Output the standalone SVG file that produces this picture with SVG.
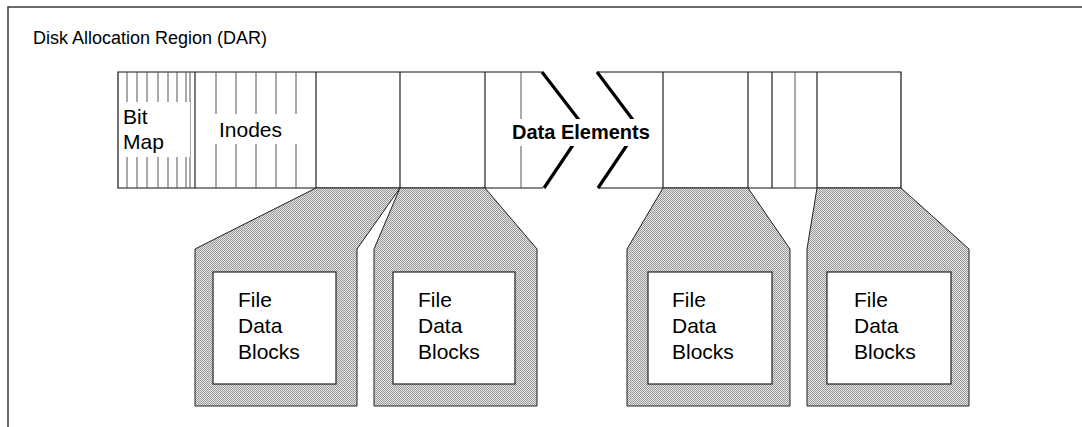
<svg xmlns="http://www.w3.org/2000/svg" width="1082" height="427" viewBox="0 0 1082 427">
  <defs>
    <!-- fine halftone screen used for the shaded funnels -->
    <pattern id="halftone" width="2" height="2" patternUnits="userSpaceOnUse">
      <rect width="2" height="2" fill="#e4e4e4"/>
      <rect width="1" height="1" fill="#9a9a9a"/>
      <rect x="1" y="1" width="1" height="1" fill="#9a9a9a"/>
    </pattern>
    <style>
      .frame { fill: none; stroke: #3a3a3a; stroke-width: 1.5; }
      .edge { fill: none; stroke: #111; stroke-width: 1.2; }
      .tick { fill: none; stroke: #555; stroke-width: 1; }
      .div { fill: none; stroke: #222; stroke-width: 1.2; }
      .brk { fill: none; stroke: #000; stroke-width: 3.2; }
      .funnel { fill: url(#halftone); stroke: #222; stroke-width: 1; }
      .inner { fill: #fff; stroke: #222; stroke-width: 1.2; }
      .knock { fill: #fff; stroke: none; }
      text { font-family: "Liberation Sans", Arial, sans-serif; fill: #000; }
      .lbl { font-size: 21px; }
      .title { font-size: 18px; }
      .bold { font-size: 20px; font-weight: bold; }
    </style>
  </defs>

  <rect width="1082" height="427" fill="#fff"/>

  <!-- outer frame (only top and left edges fall inside the sheet) -->
  <path class="frame" d="M8,427 V7 H1082"/>

  <g id="title">
    <text class="title" x="33" y="44">Disk Allocation Region (DAR)</text>
  </g>

  <!-- the allocation region strip -->
  <g id="dar-bar">
    <!-- outline, interrupted at the break -->
    <path class="edge" d="M542,72 H118 V188 H543"/>
    <path class="edge" d="M597,72 H901 V188 H598"/>

    <!-- bit map cells -->
    <g id="bitmap">
      <path class="tick" d="M127,72 V188 M137,72 V188 M147,72 V188 M158,72 V188 M168,72 V188 M177,72 V188 M186,72 V188 M190,72 V188"/>
      <path class="div" d="M195,72 V188"/>
      <rect class="knock" x="121" y="102" width="69" height="55"/>
      <text class="lbl" x="123" y="124">Bit</text>
      <text class="lbl" x="123" y="149">Map</text>
    </g>

    <!-- inode cells -->
    <g id="inodes">
      <path class="tick" d="M216,72 V188 M236,72 V188 M256,72 V188 M276,72 V188 M296,72 V188"/>
      <path class="div" d="M316,72 V188"/>
      <rect class="knock" x="212" y="114" width="88" height="30"/>
      <text class="lbl" x="219" y="137">Inodes</text>
    </g>

    <!-- data element cells -->
    <g id="data-elements">
      <path class="div" d="M400,72 V188 M485,72 V188"/>
      <path class="tick" d="M521,72 V188"/>
      <path class="div" d="M663,72 V188 M748,72 V188 M772,72 V188 M817,72 V188"/>
      <path class="tick" d="M795,72 V188"/>
      <!-- break marks -->
      <path class="brk" d="M542,72 L579,120 M597,72 L633,120 M573,145 L544,188 M627,145 L598,188"/>
      <rect class="knock" x="509" y="119" width="144" height="27"/>
      <text class="bold" x="512" y="139">Data Elements</text>
    </g>
  </g>

  <!-- shaded funnels leading from each data element to its blocks -->
  <g id="connectors">
    <polygon class="funnel" points="316,188 400,188 357,249 357,406 195,406 195,249"/>
    <polygon class="funnel" points="400,188 485,188 537,249 537,406 374,406 374,249"/>
    <polygon class="funnel" points="663,188 748,188 790,249 790,406 627,406 627,249"/>
    <polygon class="funnel" points="817,188 901,188 969,249 969,406 807,406 807,249"/>
  </g>

  <g id="blocks-1">
    <rect class="inner" x="213" y="272" width="123" height="112"/>
    <text class="lbl" x="238" y="307">File</text>
    <text class="lbl" x="238" y="333">Data</text>
    <text class="lbl" x="238" y="359">Blocks</text>
  </g>
  <g id="blocks-2">
    <rect class="inner" x="393" y="272" width="122" height="112"/>
    <text class="lbl" x="418" y="307">File</text>
    <text class="lbl" x="418" y="333">Data</text>
    <text class="lbl" x="418" y="359">Blocks</text>
  </g>
  <g id="blocks-3">
    <rect class="inner" x="648" y="272" width="124" height="112"/>
    <text class="lbl" x="672" y="307">File</text>
    <text class="lbl" x="672" y="333">Data</text>
    <text class="lbl" x="672" y="359">Blocks</text>
  </g>
  <g id="blocks-4">
    <rect class="inner" x="827" y="272" width="124" height="112"/>
    <text class="lbl" x="854" y="307">File</text>
    <text class="lbl" x="854" y="333">Data</text>
    <text class="lbl" x="854" y="359">Blocks</text>
  </g>
</svg>
